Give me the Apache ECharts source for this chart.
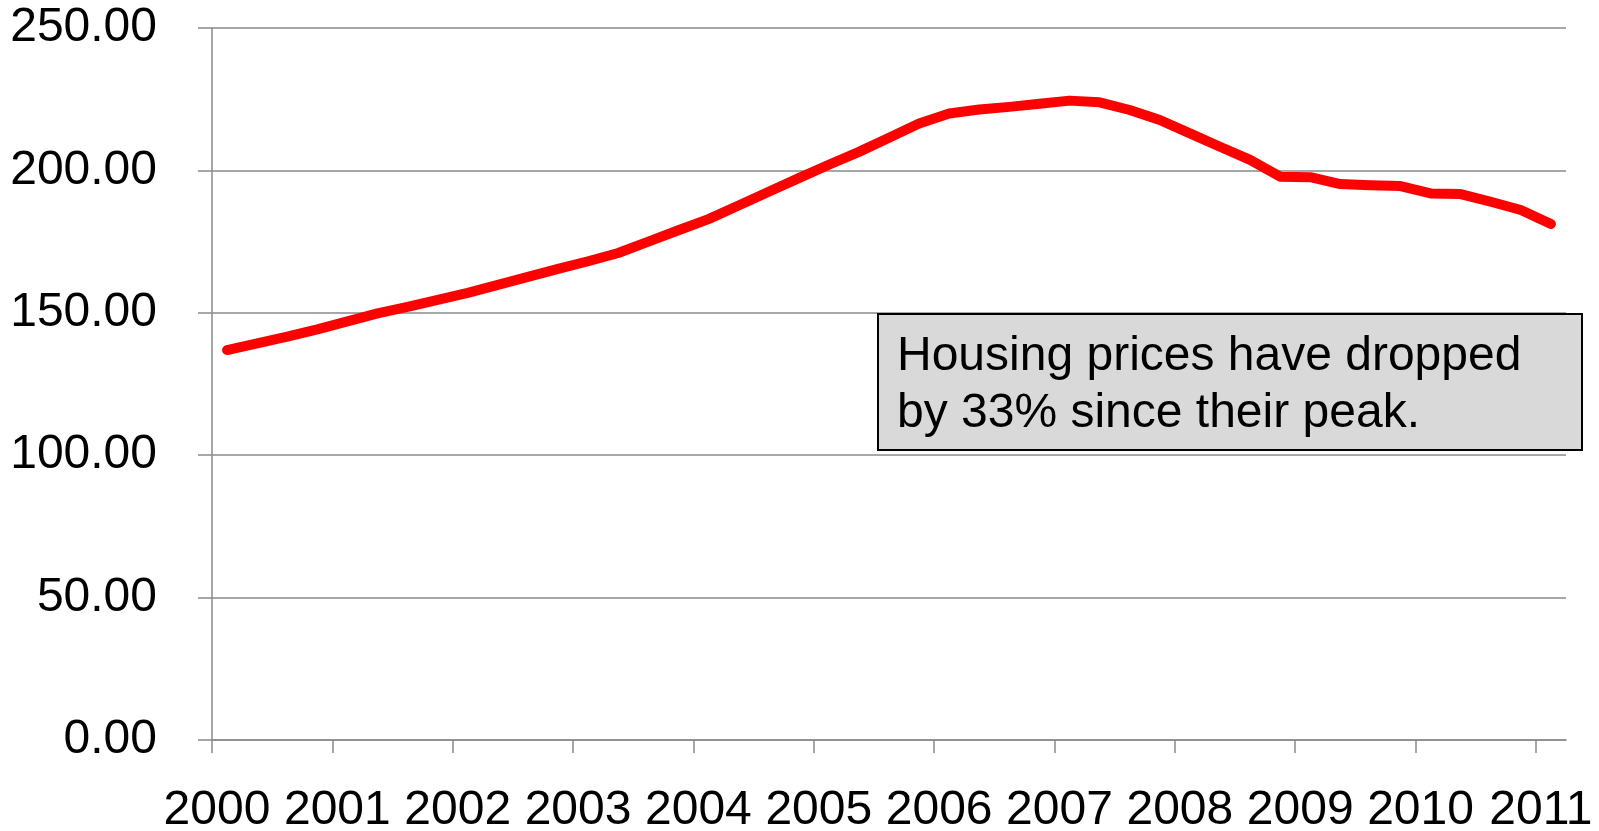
<!DOCTYPE html>
<html>
<head>
<meta charset="utf-8">
<title>Housing prices</title>
<script src="https://cdn.jsdelivr.net/npm/echarts@6/dist/echarts.min.js"></script>
<style>
  html, body { margin: 0; padding: 0; background: #fff; }
  #main { width: 1599px; height: 831px; }
</style>
</head>
<body>
<div id="main"></div>
<script>
// quarterly index, 2000Q1 .. 2011Q1
var quarters = [
  '2000Q1', '2000Q2', '2000Q3', '2000Q4',
  '2001Q1', '2001Q2', '2001Q3', '2001Q4',
  '2002Q1', '2002Q2', '2002Q3', '2002Q4',
  '2003Q1', '2003Q2', '2003Q3', '2003Q4',
  '2004Q1', '2004Q2', '2004Q3', '2004Q4',
  '2005Q1', '2005Q2', '2005Q3', '2005Q4',
  '2006Q1', '2006Q2', '2006Q3', '2006Q4',
  '2007Q1', '2007Q2', '2007Q3', '2007Q4',
  '2008Q1', '2008Q2', '2008Q3', '2008Q4',
  '2009Q1', '2009Q2', '2009Q3', '2009Q4',
  '2010Q1', '2010Q2', '2010Q3', '2010Q4',
  '2011Q1'
]
var prices = [
  136.9, 139.3, 141.6, 144.2,
  147.0, 149.8, 152.1, 154.5,
  157.0, 159.8, 162.6, 165.4,
  168.1, 171.0, 175.0, 179.0,
  182.9, 187.7, 192.5, 197.3,
  202.0, 206.5, 211.5, 216.5,
  220.0, 221.4, 222.3, 223.4,
  224.5, 223.9, 221.2, 217.7,
  213.0, 208.3, 203.7, 197.8,
  197.6, 195.2, 194.8, 194.5,
  191.9, 191.7, 189.0, 186.1,
  181.2
]
var yearTicks = [2000, 2001, 2002, 2003, 2004, 2005, 2006, 2007, 2008, 2009, 2010, 2011]
var note = ['Housing prices have dropped', 'by 33% since their peak.']

// each quarter sits in the middle of its quarter on the time axis
var lineData = quarters.map(function (q, i) {
  var year = parseInt(q.slice(0, 4), 10)
  var qn = parseInt(q.slice(5), 10)
  return [year + (qn - 1) / 4 + 0.125, prices[i]]
})

var gridColor = '#8a8a8a'
var font = '"Liberation Sans", Arial, sans-serif'

var myChart = echarts.init(document.getElementById('main'))
myChart.setOption({
  animation: false,
  grid: {
    left: 212,
    right: 33,
    top: 28,
    bottom: 91,
    containLabel: false,
    outerBoundsMode: 'none'
  },
  xAxis: {
    type: 'value',
    min: 2000,
    max: 2011.25,
    axisLine: { show: true, lineStyle: { color: gridColor, width: 1.5 } },
    axisTick: {
      show: true,
      length: 13,
      customValues: yearTicks,
      lineStyle: { color: gridColor, width: 1.5 }
    },
    axisLabel: {
      customValues: yearTicks,
      margin: 47,
      fontSize: 48,
      fontFamily: font,
      color: '#000',
      padding: [0, 0, 0, 10],
      formatter: function (v) { return String(v) }
    },
    splitLine: { show: false }
  },
  yAxis: {
    type: 'value',
    min: 0,
    max: 250,
    interval: 50,
    axisLine: { show: true, lineStyle: { color: gridColor, width: 1.5 } },
    axisTick: { show: true, length: 14, lineStyle: { color: gridColor, width: 1.5 } },
    axisLabel: {
      margin: 55,
      fontSize: 48,
      fontFamily: font,
      color: '#000',
      formatter: function (v) { return v.toFixed(2) }
    },
    splitLine: { show: true, lineStyle: { color: gridColor, width: 1.5 } }
  },
  series: [{
    name: 'Housing prices',
    type: 'line',
    data: lineData,
    showSymbol: false,
    smooth: false,
    lineStyle: { color: '#ff0000', width: 10, cap: 'round', join: 'round' },
    itemStyle: { color: '#ff0000' }
  }],
  graphic: [{
    type: 'rect',
    z: 100,
    shape: { x: 878, y: 314, width: 704, height: 136 },
    style: { fill: '#d9d9d9', stroke: '#000', lineWidth: 2 }
  }, {
    type: 'text',
    z: 101,
    x: 897,
    y: 328,
    style: {
      text: note.join('\n'),
      font: '48px ' + font,
      fill: '#000',
      lineHeight: 57,
      verticalAlign: 'top'
    }
  }]
})
</script>
</body>
</html>
